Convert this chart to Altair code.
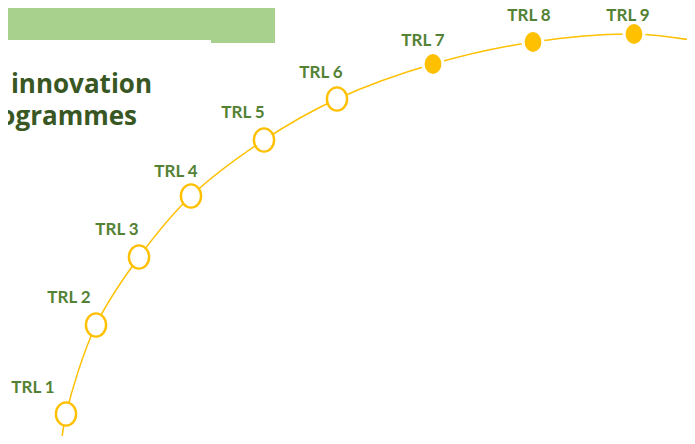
import altair as alt
import pandas as pd

# TRL milestones (reference-pixel coordinates of the diagram)
labels = ["TRL 1", "TRL 2", "TRL 3", "TRL 4", "TRL 5", "TRL 6", "TRL 7", "TRL 8", "TRL 9"]
cx = [66, 96, 139, 191, 264, 337, 433, 533, 634]
cy = [414, 325, 257, 196, 140, 99, 64, 42, 34]
filled = [False, False, False, False, False, False, True, True, True]
lx = [33, 69, 117, 176, 243, 321, 423, 529, 628]
ly = [388, 298, 230, 172, 113, 73, 41, 16, 16]

# arc passing through the milestones
curve_x = [61] + cx + [697]
curve_y = [447] + cy + [41]

# header band
band_x = [0, 211]
band_x2 = [275, 275]
band_y = [0, 0]
band_y2 = [40, 43]

title_lines = ["S innovation", "programmes"]
title_x = [152, 137]
title_y = [93, 125]

XS = alt.Scale(domain=[8, 687], nice=False, zero=False)
YS = alt.Scale(domain=[8, 436], nice=False, zero=False, reverse=True)

ELLIPSE = "M0,-1 A0.87,1 0 1,1 0,1 A0.87,1 0 1,1 0,-1 Z"

pts = pd.DataFrame({"label": labels, "x": cx, "y": cy, "filled": filled, "lx": lx, "ly": ly})
curve = pd.DataFrame({"x": curve_x, "y": curve_y, "o": list(range(len(curve_x)))})
band = pd.DataFrame({"x": band_x, "x2": band_x2, "y": band_y, "y2": band_y2})
title = pd.DataFrame({"t": title_lines, "x": title_x, "y": title_y})

band_layer = alt.Chart(band).mark_rect(color="#A9D18E", clip=True).encode(
    x=alt.X("x:Q", scale=XS, axis=None),
    x2="x2:Q",
    y=alt.Y("y:Q", scale=YS, axis=None),
    y2="y2:Q",
)

title_layer = alt.Chart(title).mark_text(
    align="right", baseline="alphabetic", font="Open Sans", fontWeight="bold",
    fontSize=26, color="#385723"
).encode(
    x=alt.X("x:Q", scale=XS, axis=None),
    y=alt.Y("y:Q", scale=YS, axis=None),
    text="t:N",
)

line_layer = alt.Chart(curve).mark_line(
    color="#FFC000", strokeWidth=1.5, interpolate="catmull-rom", clip=True
).encode(
    x=alt.X("x:Q", scale=XS, axis=None),
    y=alt.Y("y:Q", scale=YS, axis=None),
    order="o:Q",
)

hollow = alt.Chart(pts).transform_filter("!datum.filled").mark_point(
    shape=ELLIPSE, filled=True, fill="white", stroke="#FFC000", strokeWidth=2.4,
    size=540, opacity=1
).encode(
    x=alt.X("x:Q", scale=XS, axis=None),
    y=alt.Y("y:Q", scale=YS, axis=None),
)

solid = alt.Chart(pts).transform_filter("datum.filled").mark_point(
    shape=ELLIPSE, filled=True, fill="#FFC000", stroke="white", strokeWidth=3,
    size=520, opacity=1
).encode(
    x=alt.X("x:Q", scale=XS, axis=None),
    y=alt.Y("y:Q", scale=YS, axis=None),
)

label_layer = alt.Chart(pts).mark_text(
    align="center", baseline="middle", font="Lato", fontWeight="bold",
    fontSize=17, color="#548235"
).encode(
    x=alt.X("lx:Q", scale=XS, axis=None),
    y=alt.Y("ly:Q", scale=YS, axis=None),
    text="label:N",
)

chart = alt.layer(band_layer, title_layer, line_layer, hollow, solid, label_layer).properties(
    width=679, height=428, padding=0, autosize=alt.AutoSizeParams(type="none"),
    background="white"
).configure_view(stroke=None)

chart.save("out.html", embed_options={"renderer": "svg", "actions": False})
